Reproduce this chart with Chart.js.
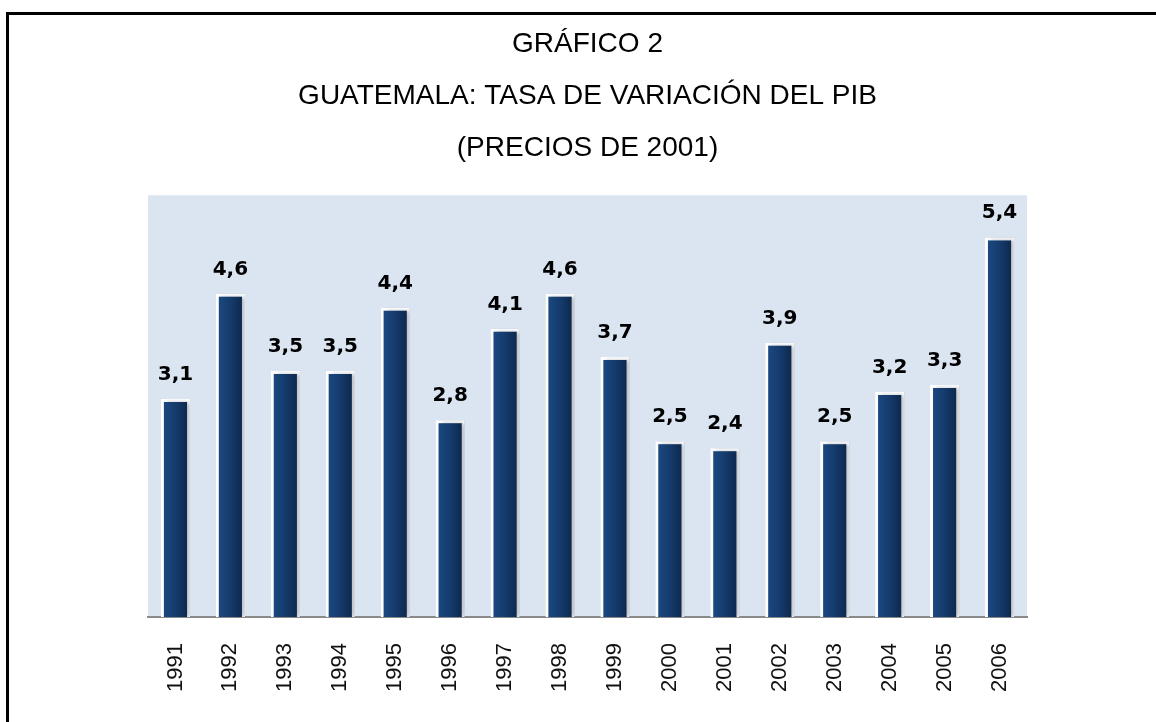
<!DOCTYPE html>
<html>
<head>
<meta charset="utf-8">
<script src="https://cdn.jsdelivr.net/npm/chart.js@4/dist/chart.umd.min.js"></script>
<style>
  html, body { margin: 0; padding: 0; background: #fff; overflow: hidden; }
  #wrap { position: relative; width: 1156px; height: 722px; }
  #frame { position: absolute; left: 6px; top: 12px; width: 1200px; height: 800px;
           border-left: 3px solid #000; border-top: 3px solid #000; pointer-events: none; }
  canvas { position: absolute; left: 0; top: 0; }
</style>
</head>
<body>
<div id="wrap">
  <canvas id="bar-chart" width="1156" height="722"></canvas>
  <div id="frame"></div>
</div>
<script>
// data
var years = ['1991','1992','1993','1994','1995','1996','1997','1998','1999','2000','2001','2002','2003','2004','2005','2006'];
var pib = [3.1, 4.6, 3.5, 3.5, 4.4, 2.8, 4.1, 4.6, 3.7, 2.5, 2.4, 3.9, 2.5, 3.2, 3.3, 5.4];
var titleLines = ['GRÁFICO 2', 'GUATEMALA: TASA DE VARIACIÓN DEL PIB', '(PRECIOS DE 2001)'];

// light blue plot area
var plotBg = {
  id: 'plotBg',
  beforeDraw: function(chart){
    var a = chart.chartArea, ctx = chart.ctx;
    ctx.save();
    ctx.fillStyle = '#dbe5f1';
    ctx.fillRect(a.left, a.top, a.right - a.left, a.bottom - a.top);
    ctx.restore();
  }
};

// soft shadow behind bars
var barShadow = {
  id: 'barShadow',
  beforeDatasetsDraw: function(chart){
    var ctx = chart.ctx;
    ctx.save();
    ctx.shadowColor = 'rgba(60,70,90,0.35)';
    ctx.shadowBlur = 4;
    ctx.shadowOffsetX = 3;
    ctx.shadowOffsetY = 0;
  },
  afterDatasetsDraw: function(chart){
    chart.ctx.restore();
  }
};

// value labels over bars
var valueLabels = {
  id: 'valueLabels',
  afterDatasetsDraw: function(chart){
    var ctx = chart.ctx;
    var meta = chart.getDatasetMeta(0);
    ctx.save();
    ctx.font = 'bold 20px "DejaVu Sans"';
    ctx.fillStyle = '#000';
    ctx.textAlign = 'center';
    ctx.textBaseline = 'alphabetic';
    meta.data.forEach(function(bar, i){
      var txt = pib[i].toFixed(1).replace('.', ',');
      ctx.fillText(txt, bar.x, bar.y - 19);
    });
    ctx.restore();
  }
};

function barGradient(c){
  var chart = c.chart;
  if (!chart.chartArea || !chart.scales.x) return '#163d6e';
  var x = chart.scales.x.getPixelForValue(c.dataIndex);
  var g = chart.ctx.createLinearGradient(x - 14, 0, x + 14, 0);
  g.addColorStop(0, '#1c4b85');
  g.addColorStop(0.5, '#153b6c');
  g.addColorStop(1, '#0c2548');
  return g;
}

new Chart(document.getElementById('bar-chart'), {
  type: 'bar',
  data: {
    labels: years,
    datasets: [{
      data: pib,
      backgroundColor: barGradient,
      borderColor: '#ffffff',
      borderWidth: 3,
      borderSkipped: 'bottom',
      barPercentage: 0.53,
      categoryPercentage: 1.0
    }]
  },
  options: {
    responsive: false,
    animation: false,
    layout: { padding: { left: 148, right: 129, top: 0, bottom: 0 } },
    plugins: {
      legend: { display: false },
      tooltip: { enabled: false },
      title: {
        display: true,
        text: titleLines,
        color: '#000',
        font: { family: '"Liberation Sans", Arial, sans-serif', size: 28, weight: 'normal', lineHeight: 1.86 },
        padding: { top: 18, bottom: 21 }
      }
    },
    scales: {
      x: {
        grid: { display: false, drawTicks: false },
        border: { display: true, color: '#8a8a8a', width: 2 },
        ticks: {
          minRotation: 90, maxRotation: 90,
          padding: 26,
          color: '#111',
          font: { family: '"Liberation Sans", Arial, sans-serif', size: 22 }
        },
        afterFit: function(s){ s.height = 105; }
      },
      y: {
        display: false,
        min: 0, max: 6
      }
    }
  },
  plugins: [plotBg, barShadow, valueLabels]
});
</script>
</body>
</html>
